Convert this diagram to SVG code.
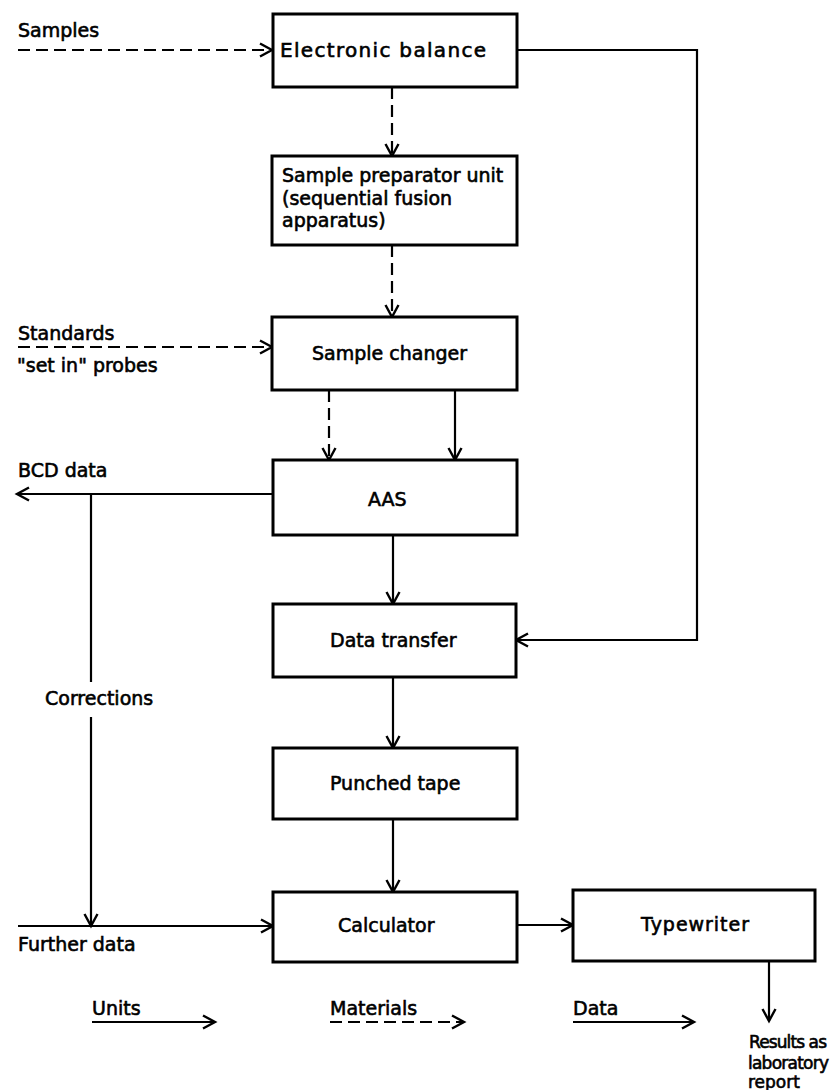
<svg xmlns="http://www.w3.org/2000/svg" width="834" height="1090" viewBox="0 0 834 1090">
<style>
.box{fill:#fff;stroke:#000;stroke-width:3}
.t{font-family:"DejaVu Sans","Liberation Sans",sans-serif;font-size:19px;fill:#000;stroke:#000;stroke-width:0.6}
.s{font-size:17px}
.ln{fill:none;stroke:#000;stroke-width:2.2}
.d{stroke-dasharray:12 6}
</style>
<defs>
<marker id="ah" markerUnits="userSpaceOnUse" markerWidth="18" markerHeight="18" refX="14" refY="8" orient="auto">
<path d="M2,1.5 L14,8 L2,14.5" fill="none" stroke="#000" stroke-width="2.4" stroke-dasharray="none"/>
</marker>
</defs>
<rect width="834" height="1090" fill="#fff"/>
<g id="connectors">
<line class="ln d" x1="18" y1="50" x2="272" y2="50" marker-end="url(#ah)"/>
<line class="ln d" x1="392" y1="87" x2="392" y2="156" marker-end="url(#ah)"/>
<line class="ln d" x1="392" y1="245" x2="392" y2="317" marker-end="url(#ah)"/>
<line class="ln d" x1="18" y1="347" x2="272" y2="347" marker-end="url(#ah)"/>
<line class="ln d" x1="329" y1="390" x2="329" y2="460" marker-end="url(#ah)"/>
<line class="ln" x1="455" y1="390" x2="455" y2="460" marker-end="url(#ah)"/>
<line class="ln" x1="273" y1="494" x2="17" y2="494" marker-end="url(#ah)"/>
<polyline class="ln" points="91,494 91,682"/>
<line class="ln" x1="91" y1="717" x2="91" y2="926" marker-end="url(#ah)"/>
<line class="ln" x1="393" y1="535" x2="393" y2="604" marker-end="url(#ah)"/>
<polyline class="ln" points="517,50 697,50 697,640 516,640" marker-end="url(#ah)"/>
<line class="ln" x1="393" y1="677" x2="393" y2="748" marker-end="url(#ah)"/>
<line class="ln" x1="393" y1="819" x2="393" y2="892" marker-end="url(#ah)"/>
<line class="ln" x1="18" y1="926" x2="273" y2="926" marker-end="url(#ah)"/>
<line class="ln" x1="517" y1="925" x2="573" y2="925" marker-end="url(#ah)"/>
<line class="ln" x1="769" y1="961" x2="769" y2="1021" marker-end="url(#ah)"/>
</g>
<g id="balance"><rect class="box" x="273" y="14" width="244" height="73"/><text class="t" x="280" y="57" style="font-size:20px" textLength="206" lengthAdjust="spacing">Electronic balance</text></g>
<g id="preparator"><rect class="box" x="272" y="156" width="245" height="89"/>
<text class="t" x="282" y="182">Sample preparator unit</text>
<text class="t" x="282" y="205">(sequential fusion</text>
<text class="t" x="282" y="227">apparatus)</text></g>
<g id="changer"><rect class="box" x="272" y="317" width="245" height="73"/><text class="t" x="312" y="360">Sample changer</text></g>
<g id="aas"><rect class="box" x="273" y="460" width="244" height="75"/><text class="t" x="368" y="506">AAS</text></g>
<g id="transfer"><rect class="box" x="273" y="604" width="243" height="73"/><text class="t" x="330" y="647">Data transfer</text></g>
<g id="tape"><rect class="box" x="273" y="748" width="244" height="71"/><text class="t" x="330" y="790">Punched tape</text></g>
<g id="calculator"><rect class="box" x="273" y="892" width="244" height="70"/><text class="t" x="338" y="932">Calculator</text></g>
<g id="typewriter"><rect class="box" x="573" y="890" width="242" height="71"/><text class="t" x="641" y="931" textLength="108" lengthAdjust="spacing">Typewriter</text></g>
<g id="labels">
<text class="t" x="18" y="37">Samples</text>
<text class="t" x="18" y="340">Standards</text>
<text class="t" x="17" y="372">"set in" probes</text>
<text class="t" x="18" y="477">BCD data</text>
<text class="t" x="45" y="705">Corrections</text>
<text class="t" x="18" y="951">Further data</text>
<text class="t s" x="749" y="1048" textLength="78" lengthAdjust="spacing">Results as</text>
<text class="t s" x="748" y="1069" textLength="81" lengthAdjust="spacing">laboratory</text>
<text class="t s" x="748" y="1088">report</text>
</g>
<g id="legend">
<text class="t" x="92" y="1015">Units</text>
<line class="ln" x1="92" y1="1022" x2="215" y2="1022" marker-end="url(#ah)"/>
<text class="t" x="330" y="1015">Materials</text>
<line class="ln d" x1="330" y1="1022" x2="464" y2="1022" marker-end="url(#ah)"/>
<text class="t" x="573" y="1015">Data</text>
<line class="ln" x1="573" y1="1022" x2="694" y2="1022" marker-end="url(#ah)"/>
</g>
</svg>
